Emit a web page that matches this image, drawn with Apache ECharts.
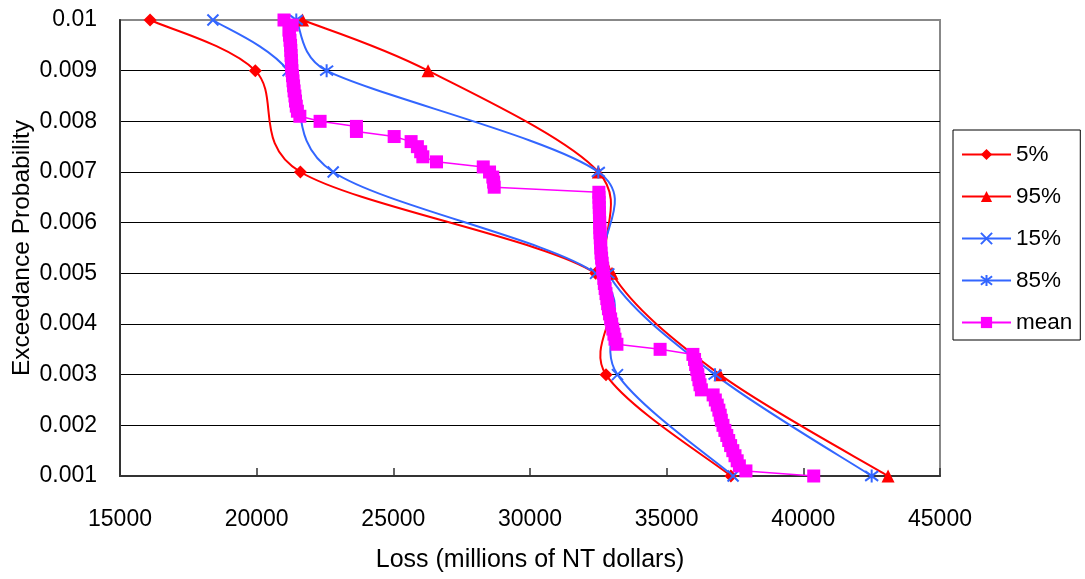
<!DOCTYPE html>
<html><head><meta charset="utf-8">
<script src="https://cdn.jsdelivr.net/npm/echarts@6/dist/echarts.min.js"></script>
<style>html,body{margin:0;padding:0;background:#fff}#c{width:1085px;height:579px}</style>
</head><body><div id="c"></div>
<script>
// ---- data ----
const probs = [0.01, 0.009, 0.007, 0.005, 0.003, 0.001];
const p5  = [16100, 19950, 21600, 32400, 32780, 37350];
const p95 = [21680, 26270, 32500, 33000, 36950, 43100];
const p15 = [18400, 21150, 22800, 32400, 33200, 37430];
const p85 = [21450, 22560, 32500, 32850, 36770, 42500];
const meanProbs = [
  0.0100,0.0099,0.0098,0.0097,0.0096,0.0095,0.0094,0.0093,0.0092,0.0091,
  0.0090,0.0089,0.0088,0.0087,0.0086,0.0085,0.0084,0.0083,0.0082,0.0081,
  0.0080,0.0079,0.0078,0.0077,0.0076,0.0075,0.0074,0.0073,0.0072,0.0071,
  0.0070,0.0069,0.0068,0.0067,0.0066,0.0065,0.0064,0.0063,0.0062,0.0061,
  0.0060,0.0059,0.0058,0.0057,0.0056,0.0055,0.0054,0.0053,0.0052,0.0051,
  0.0050,0.0049,0.0048,0.0047,0.0046,0.0045,0.0044,0.0043,0.0042,0.0041,
  0.0040,0.0039,0.0038,0.0037,0.0036,0.0035,0.0034,0.0033,0.0032,0.0031,
  0.0030,0.0029,0.0028,0.0027,0.0026,0.0025,0.0024,0.0023,0.0022,0.0021,
  0.0020,0.0019,0.0018,0.0017,0.0016,0.0015,0.0014,0.0013,0.0012,0.0011,
  0.0010];
const meanLoss = [
  21000,21300,21180,21200,21220,21240,21250,21260,21270,21280,
  21290,21310,21330,21350,21370,21400,21420,21450,21490,21580,
  22320,23650,23650,25030,25650,25880,26000,26080,26580,28290,
  28520,28640,28670,28690,32520,32525,32530,32535,32540,32545,
  32550,32555,32560,32570,32580,32590,32600,32620,32640,32660,
  32680,32700,32720,32750,32780,32810,32840,32870,32910,32950,
  32990,33030,33070,33110,33180,34760,35960,36020,36060,36100,
  36140,36180,36220,36270,36700,36780,36850,36910,36960,37000,
  37060,37130,37200,37270,37340,37420,37500,37580,37660,37900,
  40380];
const seriesNames = ['5%', '95%', '15%', '85%', 'mean'];

// ---- chart ----
const FONT = "'Liberation Sans', Arial, sans-serif";
const RED = '#FF0000', BLUE = '#3366FF', MAG = '#FF00FF';
const X_PATH = 'path://M0,0L10,10M10,0L0,10';
const STAR_PATH = 'path://M1,1.5L9,10.5M9,1.5L1,10.5M5,0L5,12';
function pairs(xs, ys) { return xs.map((x, i) => [x, ys[i]]); }

// Spreadsheet-style smoothed curve (cubic Bezier through the data points, in pixel space)
function smoothPath(pts) {
  let d = 'M' + pts[0][0] + ',' + pts[0][1];
  for (let i = 0; i < pts.length - 1; i++) {
    const p0 = pts[i - 1] || pts[i], p1 = pts[i], p2 = pts[i + 1], p3 = pts[i + 2] || pts[i + 1];
    const seg = Math.hypot(p2[0] - p1[0], p2[1] - p1[1]);
    let a = [(p2[0] - p0[0]) / 6, (p2[1] - p0[1]) / 6];
    let b = [(p3[0] - p1[0]) / 6, (p3[1] - p1[1]) / 6];
    const la = Math.hypot(a[0], a[1]), lb = Math.hypot(b[0], b[1]);
    if (la > seg / 2) a = [a[0] * seg / 2 / la, a[1] * seg / 2 / la];
    if (lb > seg / 2) b = [b[0] * seg / 2 / lb, b[1] * seg / 2 / lb];
    d += ' C' + (p1[0] + a[0]) + ',' + (p1[1] + a[1]) + ' ' + (p2[0] - b[0]) + ',' + (p2[1] - b[1]) + ' ' + p2[0] + ',' + p2[1];
  }
  return d;
}
function curveSeries(xs, color) {
  return {
    type: 'custom', name: '_curve', silent: true, z: 2,
    data: [[xs[0], probs[0]]],
    renderItem: (params, api) => {
      const pts = xs.map((x, i) => api.coord([x, probs[i]]));
      return {type: 'path', shape: {pathData: smoothPath(pts)},
              style: {stroke: color, lineWidth: 2, fill: 'none'}};
    }
  };
}
function markerSeries(name, xs, color, symbol, size, stroke) {
  return {
    name, type: 'line', data: pairs(xs, probs), smooth: false, z: 3,
    symbol, symbolSize: size, showAllSymbol: true, color,
    lineStyle: {color, width: 2, opacity: 0},
    itemStyle: stroke ? {color, borderColor: color, borderWidth: 2} : {color},
    emphasis: {disabled: true}
  };
}

const chart = echarts.init(document.getElementById('c'), null, {renderer: 'canvas'});
chart.setOption({
  animation: false,
  backgroundColor: '#fff',
  textStyle: {fontFamily: FONT},
  grid: {left: 120, right: 145, top: 20, bottom: 103, show: true, containLabel: false,
         outerBoundsMode: 'none',
         borderColor: '#888', borderWidth: 2, backgroundColor: '#fff'},
  xAxis: {
    type: 'value', min: 15000, max: 45000, interval: 5000,
    name: 'Loss (millions of NT dollars)', nameLocation: 'middle', nameGap: 72,
    nameMoveOverlap: false,
    nameTextStyle: {fontSize: 25, color: '#000', fontFamily: FONT},
    axisLine: {show: true, onZero: false, lineStyle: {color: '#333', width: 2}},
    axisTick: {show: true, inside: true, length: 8, lineStyle: {color: '#333', width: 1.5}},
    axisLabel: {fontSize: 23, color: '#000', margin: 32, fontFamily: FONT,
                formatter: v => String(v)},
    splitLine: {show: false}
  },
  yAxis: {
    type: 'value', min: 0.001, max: 0.01, interval: 0.001,
    name: 'Exceedance Probability', nameLocation: 'middle', nameGap: 85,
    nameMoveOverlap: false,
    nameTextStyle: {fontSize: 24.5, color: '#000', fontFamily: FONT},
    axisLine: {show: true, onZero: false, lineStyle: {color: '#333', width: 2}},
    axisTick: {show: false},
    axisLabel: {fontSize: 23, color: '#000', margin: 23, fontFamily: FONT,
                formatter: v => String(parseFloat(v.toFixed(3)))},
    splitLine: {show: true, showMaxLine: false, showMinLine: false, lineStyle: {color: '#000', width: 1}}
  },
  legend: {
    orient: 'vertical', left: 953, top: 130, padding: [13, 8, 6, 8],
    itemGap: 19, itemWidth: 49, itemHeight: 14,
    borderColor: '#000', borderWidth: 1, backgroundColor: '#fff',
    lineStyle: {opacity: 1, width: 2},
    textStyle: {fontSize: 22.5, lineHeight: 22, color: '#000', fontFamily: FONT},
    data: seriesNames
  },
  series: [
    curveSeries(p5, RED),
    curveSeries(p95, RED),
    curveSeries(p15, BLUE),
    curveSeries(p85, BLUE),
    markerSeries(seriesNames[0], p5, RED, 'diamond', 13, false),
    markerSeries(seriesNames[1], p95, RED, 'triangle', 13, false),
    markerSeries(seriesNames[2], p15, BLUE, X_PATH, 11, true),
    markerSeries(seriesNames[3], p85, BLUE, STAR_PATH, 13, true),
    {
      name: seriesNames[4], type: 'line', data: pairs(meanLoss, meanProbs), smooth: false, z: 4,
      symbol: 'rect', symbolSize: 13, showAllSymbol: true, color: MAG,
      lineStyle: {color: MAG, width: 1.5}, itemStyle: {color: MAG},
      emphasis: {disabled: true}
    }
  ]
});
</script>
</body></html>
